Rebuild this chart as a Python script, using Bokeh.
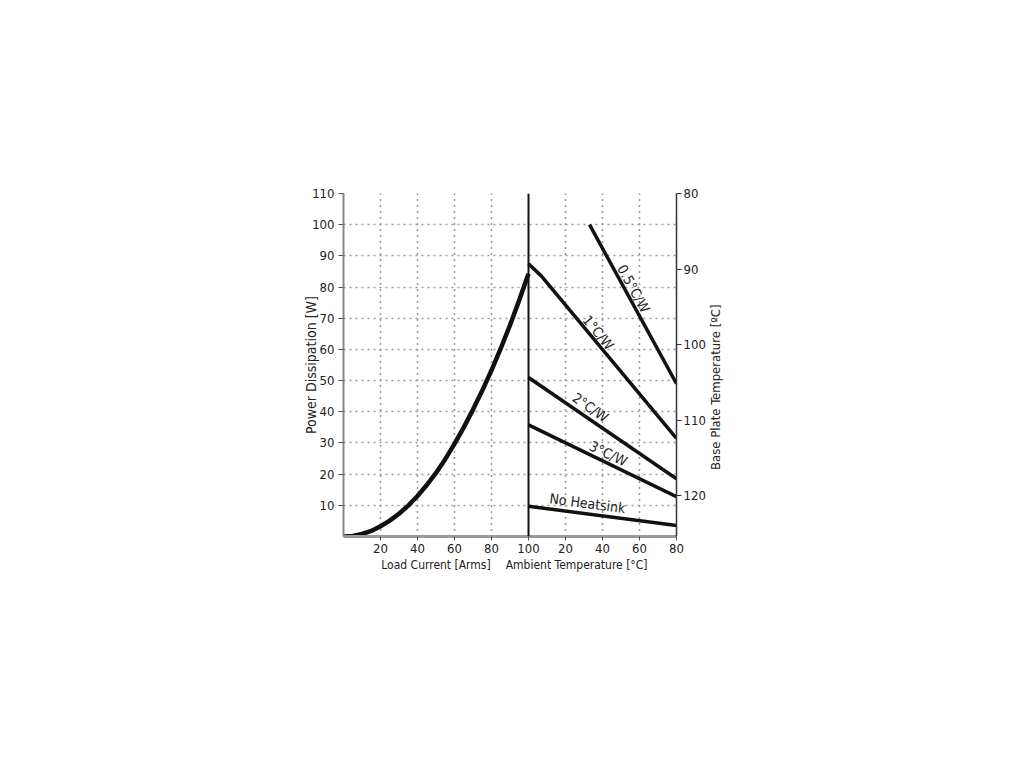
from bokeh.plotting import figure
from bokeh.models import (Range1d, LinearAxis, FixedTicker, Span, ColumnDataSource)
from bokeh.core.properties import value
from bokeh.embed import file_html
from bokeh.resources import INLINE
import math

# ---- data ----
load_current = [0, 5, 10, 15, 20, 25, 30, 35, 40, 45, 50, 55, 60, 65, 70, 75, 80, 85, 90, 95, 100]
power_w = [0, 0.2, 0.8, 1.8, 3.3, 5.1, 7.3, 9.9, 13.0, 16.5, 20.4, 24.8, 29.7, 35.0,
           40.7, 46.8, 53.3, 60.3, 67.8, 75.8, 84.3]

ambient_05 = [33, 80]
power_05 = [100, 49]
ambient_1 = [0, 7, 80]
power_1 = [87.5, 83.5, 31.5]
ambient_2 = [0, 80]
power_2 = [51, 18.5]
ambient_3 = [0, 80]
power_3 = [35.8, 12.8]
ambient_nh = [0, 80]
power_nh = [9.7, 3.5]

series_labels = ["0.5°C/W", "1°C/W", "2°C/W", "3°C/W", "No Heatsink"]
power_ticks = [10, 20, 30, 40, 50, 60, 70, 80, 90, 100, 110]
x_ticks = [20, 40, 60, 80, 100, 120, 140, 160, 180]
x_tick_labels = ["20", "40", "60", "80", "100", "20", "40", "60", "80"]
base_ticks = [80, 90, 100, 110, 120]
x_titles = ["Load Current [Arms]", "Ambient Temperature [°C]"]
right_title = "Base Plate Temperature [ºC]"

FONT = "DejaVu Sans Condensed"
OFFSET = 100  # ambient axis starts where load current ends

X0, X1 = 0, 180
Y0, Y1 = 0, 110
FW, FH = 333, 343

p = figure(output_backend="svg", toolbar_location=None,
           frame_width=FW, frame_height=FH,
           x_range=Range1d(X0, X1), y_range=Range1d(Y0, Y1),
           min_border_left=343, min_border_top=193,
           min_border_right=300, min_border_bottom=200,
           background_fill_color="white", border_fill_color="white",
           outline_line_color=None)

# grids
p.xgrid.ticker = FixedTicker(ticks=[20, 40, 60, 80, 120, 140, 160])
p.xgrid.grid_line_color = "#333333"
p.xgrid.grid_line_dash = "1 5"
p.xgrid.grid_line_width = 1.5
p.ygrid.ticker = FixedTicker(ticks=power_ticks)
p.ygrid.grid_line_color = "#999999"
p.ygrid.grid_line_dash = "2 4"
p.ygrid.grid_line_width = 1.5


def style_labels(ax, size="13px"):
    ax.major_label_text_font = FONT
    ax.major_label_text_font_size = size
    ax.major_label_text_color = "#222222"
    ax.axis_label_text_font = FONT
    ax.axis_label_text_font_size = size
    ax.axis_label_text_font_style = "normal"
    ax.axis_label_text_color = "#222222"
    ax.minor_tick_line_color = None


# left axis
yax = p.yaxis[0]
style_labels(yax)
yax.axis_label_text_font_size = "14px"
yax.ticker = FixedTicker(ticks=power_ticks)
yax.axis_label = "Power Dissipation [W]"
yax.axis_line_color = "#888888"
yax.axis_line_width = 2
yax.major_tick_line_color = "#555555"
yax.major_tick_out = 5
yax.major_tick_in = 0
yax.major_label_standoff = 4
yax.axis_label_standoff = -10

# bottom axis
xax = p.xaxis[0]
style_labels(xax)
xax.ticker = FixedTicker(ticks=x_ticks)
xax.major_label_overrides = {t: l for t, l in zip(x_ticks, x_tick_labels)}
xax.axis_line_color = "#999999"
xax.axis_line_width = 3
xax.major_tick_line_color = "#555555"
xax.major_tick_out = 4
xax.major_tick_in = 0
xax.major_label_standoff = 3

# second bottom axis carrying the two x titles
tax = LinearAxis(ticker=FixedTicker(ticks=[50, 126]),
                 major_label_overrides={50: x_titles[0], 126: x_titles[1]})
style_labels(tax, "12px")
tax.axis_line_color = None
tax.major_tick_line_color = None
tax.major_tick_out = 0
tax.major_tick_in = 0
tax.major_label_standoff = 2
p.add_layout(tax, "below")

# right axis (base plate temperature, inverted)
p.extra_y_ranges = {"bp": Range1d(125.4, 80)}
rax = LinearAxis(y_range_name="bp", ticker=FixedTicker(ticks=base_ticks))
style_labels(rax)
rax.axis_line_color = "#333333"
rax.axis_line_width = 1.5
rax.major_tick_line_color = "#333333"
rax.major_tick_out = 5
rax.major_tick_in = 0
rax.major_label_standoff = 2
p.add_layout(rax, "right")

# outer right axis carrying the rotated title (reads bottom-to-top);
# the label starts at its anchor, so the anchor sits below the title's centre
rtax = LinearAxis(y_range_name="bp", ticker=FixedTicker(ticks=[116.6]),
                  major_label_overrides={116.6: right_title},
                  major_label_orientation=math.pi / 2)
style_labels(rtax, "13px")
rtax.axis_line_color = None
rtax.major_tick_line_color = None
rtax.major_tick_out = 0
rtax.major_tick_in = 0
rtax.major_label_standoff = 7
p.add_layout(rtax, "right")

# divider line at x = 100
p.add_layout(Span(location=OFFSET, dimension="height", line_color="#111111", line_width=2))

# power vs load current
p.line(load_current, power_w, line_color="#111111", line_width=4.5, line_join="round")

# thermal resistance lines
series = [(ambient_05, power_05), (ambient_1, power_1), (ambient_2, power_2),
          (ambient_3, power_3), (ambient_nh, power_nh)]
for t, w in series:
    p.line([OFFSET + v for v in t], w, line_color="#111111", line_width=3.5)

# labels along lines: (ambient position, W offset above line)
label_pos = [(56.8, 5.3), (37.8, 3.8), (33.5, 4.0), (43.2, 3.2), (31.9, 3.4)]
sx = FW / (X1 - X0)
sy = FH / (Y1 - Y0)
lx, ly, la = [], [], []
for (t, w), (tp, dw) in zip(series, label_pos):
    for i in range(len(t) - 1):
        if t[i] <= tp <= t[i + 1] or i == len(t) - 2:
            f = (tp - t[i]) / (t[i + 1] - t[i])
            yv = w[i] + f * (w[i + 1] - w[i])
            slope = (w[i + 1] - w[i]) / (t[i + 1] - t[i])
            break
    lx.append(OFFSET + tp)
    ly.append(yv + dw)
    la.append(math.atan(slope * sy / sx))
src = ColumnDataSource(dict(x=lx, y=ly, text=series_labels, angle=la))
p.text(x="x", y="y", text="text", angle="angle", source=src,
       text_font=value(FONT), text_font_size="14px", text_color="#222222",
       text_align="center", text_baseline="middle")

open("out.html", "w").write(file_html(p, INLINE))
